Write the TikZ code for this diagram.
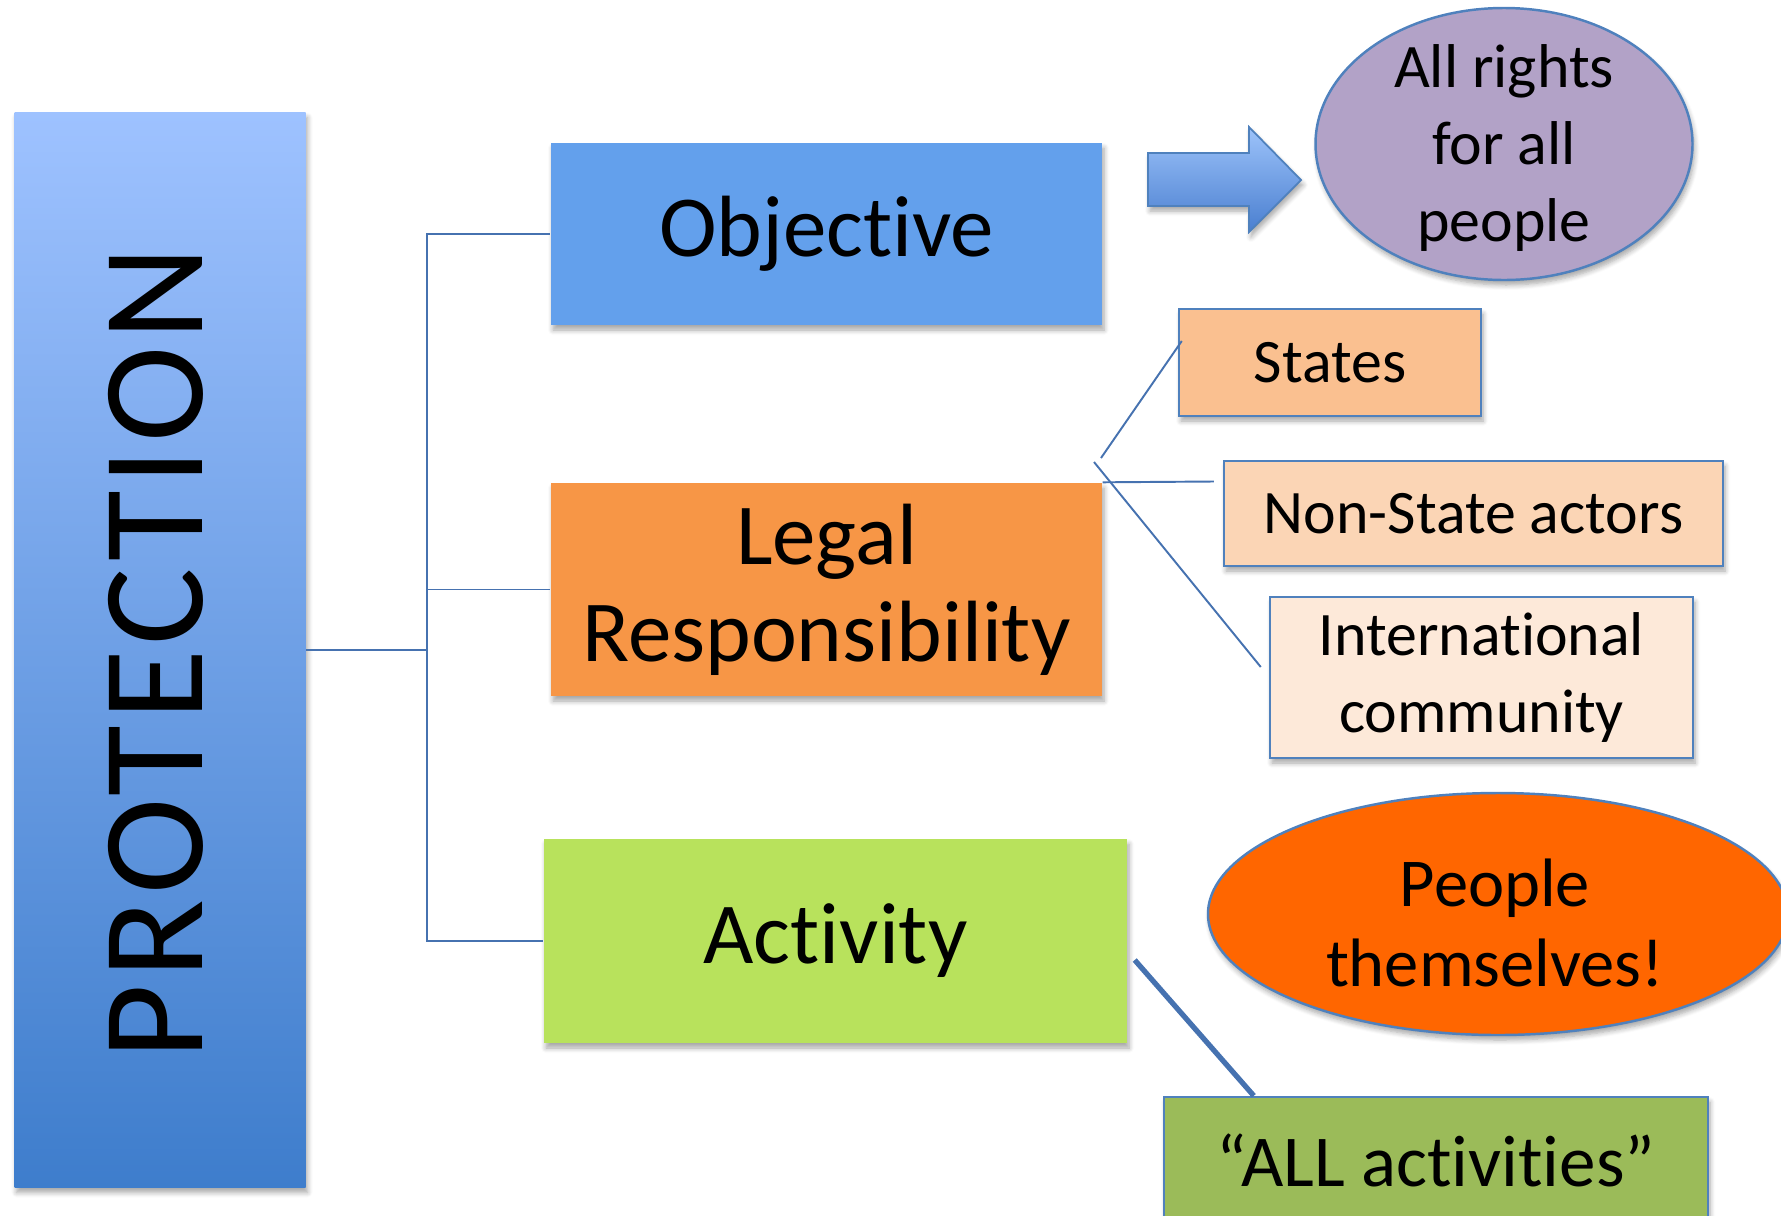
\documentclass[tikz,border=0pt]{standalone}
\usepackage{fontspec}
\setmainfont{Carlito}[Ligatures=NoCommon]
\usetikzlibrary{shapes.geometric,shadows.blur}

\definecolor{protop}{RGB}{158,194,255}
\definecolor{protbot}{RGB}{62,125,204}
\definecolor{objblue}{RGB}{99,160,236}
\definecolor{legalorange}{RGB}{247,150,70}
\definecolor{actgreen}{RGB}{184,226,92}
\definecolor{rightsviolet}{RGB}{178,162,199}
\definecolor{peachdark}{RGB}{250,192,144}
\definecolor{peachmid}{RGB}{251,213,181}
\definecolor{peachlight}{RGB}{253,233,217}
\definecolor{peopleorange}{RGB}{255,102,0}
\definecolor{allgreen}{RGB}{155,187,89}
\definecolor{arrtop}{RGB}{157,195,250}
\definecolor{arrbot}{RGB}{74,127,208}
\definecolor{edgeblue}{RGB}{79,129,189}
\definecolor{linkblue}{RGB}{70,114,176}

\tikzset{
  soft/.style={blur shadow={shadow xshift=0.02cm, shadow yshift=-0.05cm, shadow blur steps=6, shadow opacity=35, shadow blur radius=0.05cm}},
  mainbox/.style={rectangle, inner sep=0pt, soft, align=center, font=\fontsize{24.75}{27.6}\selectfont},
  subbox/.style={rectangle, draw=edgeblue, line width=0.7pt, inner sep=0pt, soft, align=center, font=\fontsize{17.6}{21.9}\selectfont},
  bubble/.style={ellipse, draw=edgeblue, line width=0.7pt, inner sep=0pt, soft},
  link/.style={draw=linkblue, line width=0.55pt},
}

\begin{document}
\begin{tikzpicture}[y=-1cm]
\useasboundingbox (0,0) rectangle (17.81,12.15);
% left bar
\node (prot) [rectangle, inner sep=0pt, minimum width=2.91cm, minimum height=10.75cm, top color=protop, bottom color=protbot, soft] at (1.60,6.50) {};
\node (prottext) [rotate=90, font=\fontsize{41.3}{45}\selectfont\addfontfeature{LetterSpace=4}] at (1.56,6.53) {PROTECTION};
% middle column
\node (objective) [mainbox, fill=objblue, minimum width=5.51cm, minimum height=1.82cm] at (8.265,2.34) {Objective};
\node (legal) [mainbox, fill=legalorange, minimum width=5.51cm, minimum height=2.13cm] at (8.265,5.895) {Legal\\Responsibility};
\node (activity) [mainbox, fill=actgreen, minimum width=5.83cm, minimum height=2.04cm] at (8.355,9.41) {Activity};
% right column
\draw [edgeblue, line width=0.5pt, top color=arrtop, bottom color=arrbot, soft] (11.48,1.53) -- (12.49,1.53) -- (12.49,1.27) -- (13.01,1.80) -- (12.49,2.32) -- (12.49,2.06) -- (11.48,2.06) -- cycle;
\node (rights) [bubble, fill=rightsviolet, minimum width=3.77cm, minimum height=2.72cm] at (15.04,1.44) {};
\node (rightstext) [align=center, font=\fontsize{17.6}{22}\selectfont] at (15.04,1.48) {All rights\\for all\\people};
\node (states) [subbox, fill=peachdark, minimum width=3.02cm, minimum height=1.07cm] at (13.30,3.625) {States};
\node (nonstate) [subbox, fill=peachmid, minimum width=4.99cm, minimum height=1.05cm] at (14.735,5.135) {Non-State actors};
\node (intl) [subbox, fill=peachlight, minimum width=4.23cm, minimum height=1.61cm] at (14.815,6.775) {International\\community};
\node (people) [bubble, fill=peopleorange, minimum width=5.80cm, minimum height=2.42cm] at (14.98,9.14) {};
\node (peopletext) [align=center, font=\fontsize{19.5}{23}\selectfont] at (14.95,9.23) {People\\themselves!};
\node (allact) [subbox, fill=allgreen, minimum width=5.44cm, minimum height=1.26cm, font=\fontsize{20.8}{24}\selectfont] at (14.36,11.60) {“ALL activities”};
% tree
\coordinate (hub) at (4.27,6.50);
\draw [link] (prot.east) -- (hub);
\draw [link] (hub) |- (objective.west);
\draw [link] (hub) |- (legal.west);
\draw [link] (hub) |- (activity.west);
% legal responsibility fan
\coordinate (forkS) at (11.01,4.58);
\coordinate (forkI) at (10.94,4.62);
\draw [link] (forkS) -- ([xshift=0.04cm, yshift=0.215cm]states.west);
\draw [link] (legal.north east) -- ([xshift=-0.09cm, yshift=0.32cm]nonstate.west);
\draw [link] (forkI) -- ([xshift=-0.08cm, yshift=0.105cm]intl.west);
\draw [link, line width=1.5pt] ([xshift=0.07cm, yshift=-0.19cm]activity.east) -- ([xshift=0.91cm]allact.north west);
\end{tikzpicture}
\end{document}
